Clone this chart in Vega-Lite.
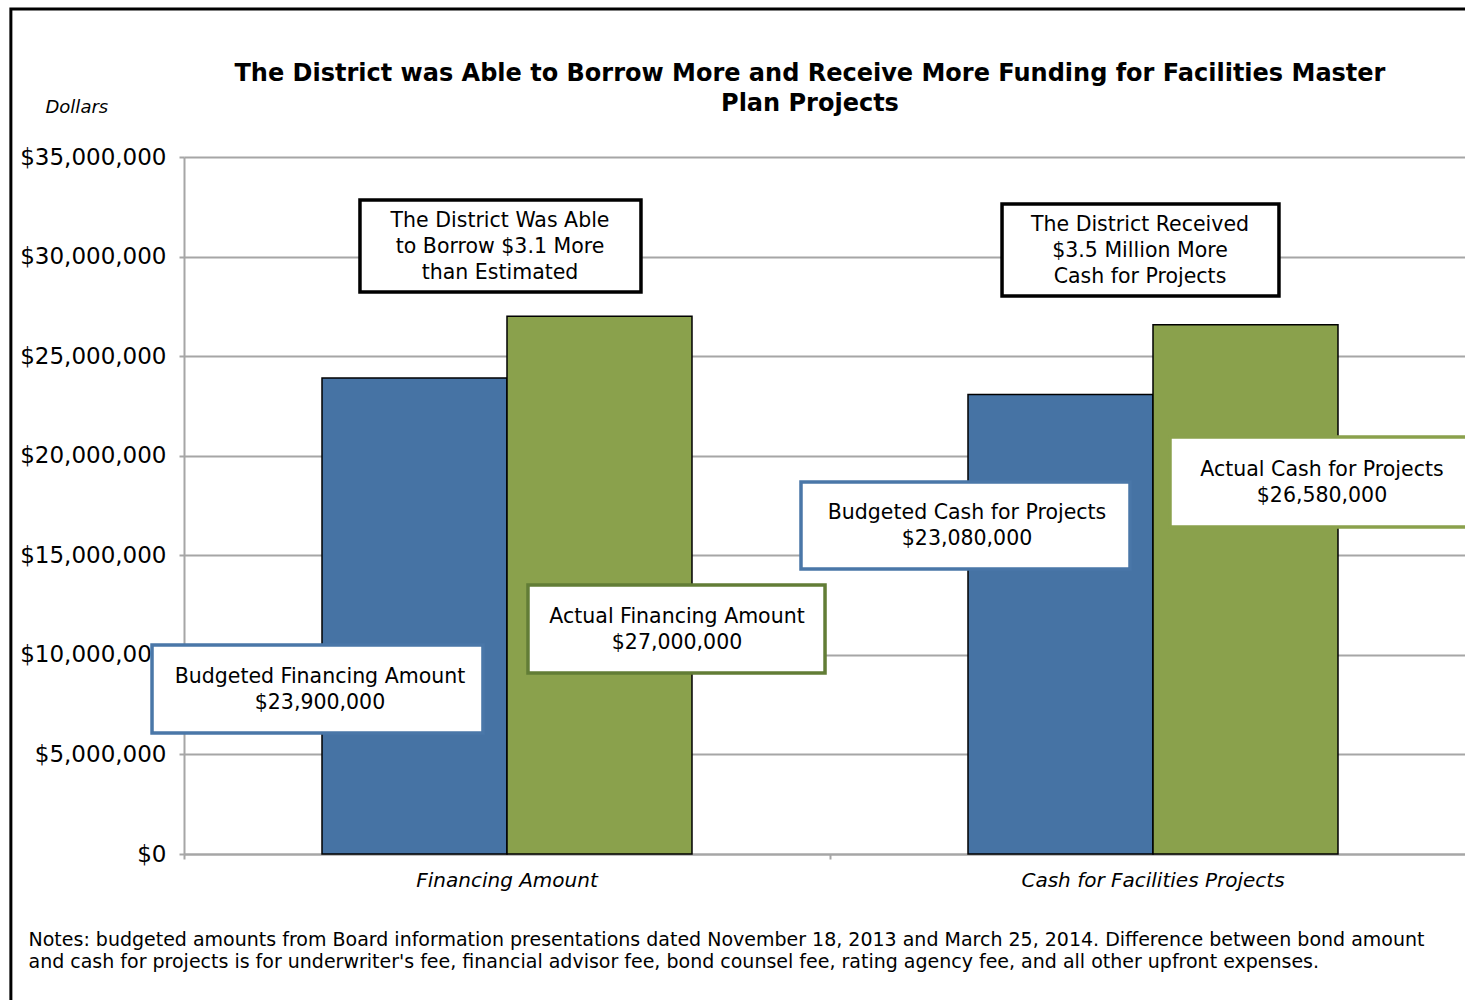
{
  "$schema": "https://vega.github.io/schema/vega-lite/v6.json",
  "autosize": {"type": "none"},
  "padding": {"left": 184, "top": 157, "right": 0, "bottom": 146},
  "width": 1292,
  "height": 697,
  "background": "white",
  "config": {"view": {"stroke": null}, "font": "DejaVu Sans"},
  "resolve": {"scale": {"x": "independent"}},
  "layer": [
    {
      "data": {"values": [
        {"category": "Financing Amount", "series": "Budgeted", "amount": 23900000},
        {"category": "Financing Amount", "series": "Actual", "amount": 27000000},
        {"category": "Cash for Facilities Projects", "series": "Budgeted", "amount": 23080000},
        {"category": "Cash for Facilities Projects", "series": "Actual", "amount": 26580000}
      ]},
      "mark": {"type": "bar", "stroke": "black", "strokeWidth": 1.5},
      "encoding": {
        "x": {
          "field": "category", "type": "nominal",
          "sort": ["Financing Amount", "Cash for Facilities Projects"],
          "scale": {"paddingInner": 0, "paddingOuter": 0},
          "axis": {
            "title": ["Notes: budgeted amounts from Board information presentations dated November 18, 2013 and March 25, 2014.  Difference between bond amount", "and cash for projects is for underwriter's fee, financial advisor fee, bond counsel fee, rating agency fee, and all other upfront expenses."],
            "titleFont": "DejaVu Sans", "titleFontSize": 19, "titleFontWeight": "normal", "titleColor": "black",
            "titleAlign": "left", "titleAnchor": "start", "titleX": -156, "titleY": 91,
            "titleBaseline": "alphabetic", "titleLineHeight": 22,
            "labelFont": "DejaVu Sans", "labelFontSize": 20, "labelFontStyle": "italic", "labelColor": "black",
            "labelAngle": 0, "labelPadding": 11, "labelLimit": 600, "bandPosition": 0,
            "domainColor": "#A6A6A6", "domainWidth": 2,
            "tickColor": "#A6A6A6", "tickWidth": 2, "tickSize": 5, "grid": false, "zindex": 0
          }
        },
        "xOffset": {
          "field": "series", "type": "nominal", "sort": ["Budgeted", "Actual"],
          "scale": {"paddingInner": 0, "paddingOuter": 0.746}
        },
        "y": {
          "field": "amount", "type": "quantitative",
          "scale": {"domain": [0, 35000000], "nice": false},
          "axis": {
            "title": "Dollars", "titleAngle": 0, "titleAlign": "left", "titleX": -139, "titleY": -45,
            "titleBaseline": "alphabetic", "titleFont": "DejaVu Sans", "titleFontStyle": "italic",
            "titleFontWeight": "normal", "titleFontSize": 18, "titleColor": "black",
            "values": [0, 5000000, 10000000, 15000000, 20000000, 25000000, 30000000, 35000000],
            "format": "$,.0f",
            "labelFont": "DejaVu Sans", "labelFontSize": 23, "labelColor": "black", "labelPadding": 13,
            "tickSize": 5, "tickColor": "#A6A6A6", "tickWidth": 2,
            "domainColor": "#A6A6A6", "domainWidth": 2,
            "gridColor": "#A6A6A6", "gridWidth": 2, "zindex": 0
          }
        },
        "color": {
          "field": "series", "type": "nominal",
          "scale": {"domain": ["Budgeted", "Actual"], "range": ["#4673A4", "#8AA14C"]},
          "legend": null
        }
      }
    },
    {
      "data": {"values": [
        {"x1": -0.268, "x2": 2.1, "y1": -9000000, "y2": 42430000}
      ]},
      "mark": {"type": "rect", "fill": null, "stroke": "black", "strokeWidth": 3},
      "encoding": {
        "x": {"field": "x1", "type": "quantitative", "scale": {"domain": [0, 2], "nice": false, "zero": false}, "axis": null},
        "x2": {"field": "x2"},
        "y": {"field": "y1", "type": "quantitative", "scale": {"domain": [0, 35000000], "nice": false}},
        "y2": {"field": "y2"}
      }
    },
    {
      "data": {"values": [
        {"kind": "note", "x1": 0.2724, "x2": 0.7074, "y1": 28220000, "y2": 32840000},
        {"kind": "note", "x1": 1.2663, "x2": 1.695, "y1": 28020000, "y2": 32640000},
        {"kind": "budgeted", "x1": -0.0495, "x2": 0.4628, "y1": 6076000, "y2": 10495000},
        {"kind": "actual", "x1": 0.5325, "x2": 0.9923, "y1": 9089000, "y2": 13508000},
        {"kind": "budgeted", "x1": 0.9551, "x2": 1.4644, "y1": 14311000, "y2": 18680000},
        {"kind": "actual cash", "x1": 1.5263, "x2": 2.05, "y1": 16420000, "y2": 20940000}
      ]},
      "mark": {"type": "rect", "fill": "white", "strokeWidth": 3.5},
      "encoding": {
        "x": {"field": "x1", "type": "quantitative", "scale": {"domain": [0, 2], "nice": false, "zero": false}, "axis": null},
        "x2": {"field": "x2"},
        "y": {"field": "y1", "type": "quantitative", "scale": {"domain": [0, 35000000], "nice": false}},
        "y2": {"field": "y2"},
        "stroke": {
          "field": "kind", "type": "nominal",
          "scale": {"domain": ["note", "budgeted", "actual", "actual cash"], "range": ["#000000", "#4A77A8", "#627D36", "#8AA14C"]},
          "legend": null
        }
      }
    },
    {
      "data": {"values": [
        {"label": "The District Was Able\nto Borrow $3.1 More\nthan Estimated", "x": 0.4892, "y": 31786000},
        {"label": "The District Received\n$3.5 Million More\nCash for Projects", "x": 1.4799, "y": 31585000},
        {"label": "Budgeted Financing Amount\n$23,900,000", "x": 0.2105, "y": 8888000},
        {"label": "Actual Financing Amount\n$27,000,000", "x": 0.7632, "y": 11901000},
        {"label": "Budgeted Cash for Projects\n$23,080,000", "x": 1.2121, "y": 17123000},
        {"label": "Actual Cash for Projects\n$26,580,000", "x": 1.7616, "y": 19283000}
      ]},
      "mark": {"type": "text", "font": "DejaVu Sans", "fontSize": 20.5, "color": "black", "align": "center", "baseline": "middle", "lineBreak": "\n", "lineHeight": 26},
      "encoding": {
        "x": {"field": "x", "type": "quantitative", "scale": {"domain": [0, 2], "nice": false, "zero": false}, "axis": null},
        "y": {"field": "y", "type": "quantitative", "scale": {"domain": [0, 35000000], "nice": false}},
        "text": {"field": "label", "type": "nominal"}
      }
    },
    {
      "data": {"values": [
        {"label": "The District was Able to Borrow More and Receive More Funding for Facilities Master\nPlan Projects", "x": 0.969, "y": 39168000}
      ]},
      "mark": {"type": "text", "font": "DejaVu Sans", "fontSize": 24, "fontWeight": "bold", "color": "black", "align": "center", "baseline": "middle", "lineBreak": "\n", "lineHeight": 30},
      "encoding": {
        "x": {"field": "x", "type": "quantitative", "scale": {"domain": [0, 2], "nice": false, "zero": false}, "axis": null},
        "y": {"field": "y", "type": "quantitative", "scale": {"domain": [0, 35000000], "nice": false}},
        "text": {"field": "label", "type": "nominal"}
      }
    }
  ]
}
